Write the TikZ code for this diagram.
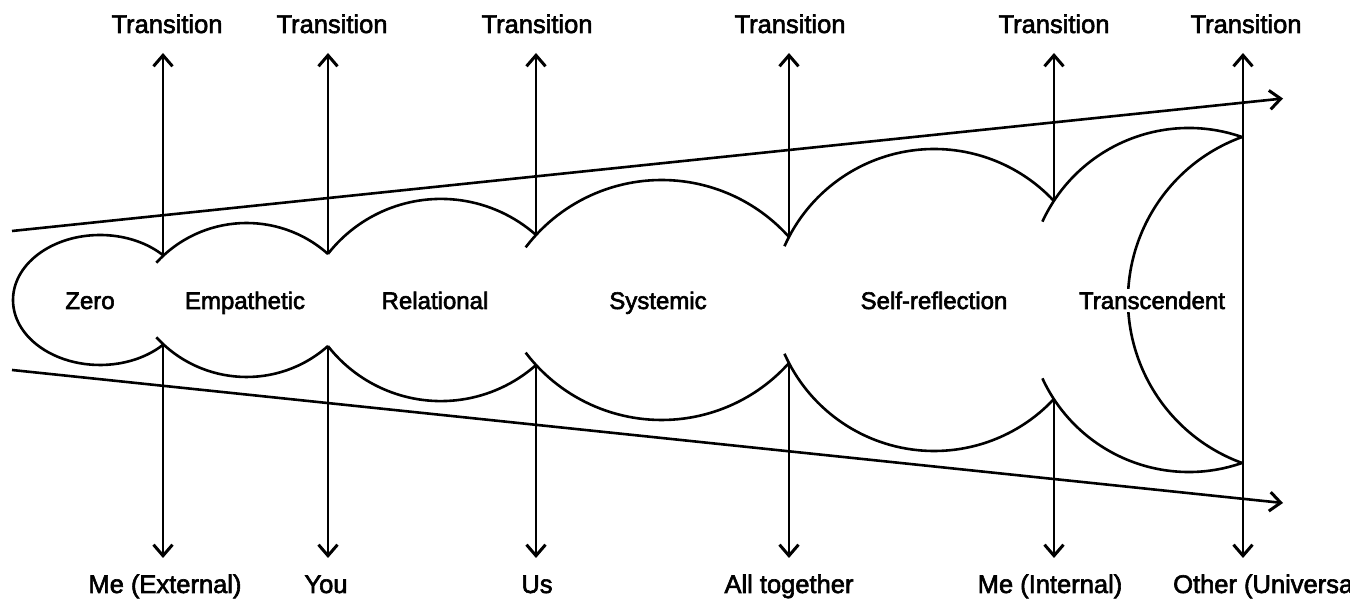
\documentclass[tikz,border=0pt]{standalone}
\usepackage{fontspec}
\newfontfamily\lblfont{Liberation Sans}
\newcommand\medweight{\special{pdf:literal direct 2 Tr 0.6 w}}
\usetikzlibrary{arrows.meta}
\begin{document}
\begin{tikzpicture}[x=1pt,y=1pt,
  ln/.style={line width=2.6pt,black},
  tipstyle/.style={-{Straight Barb[length=11pt,width=19pt,line width=3pt]}},
  outer/.style={font=\lblfont\fontsize{25.5}{29}\selectfont\medweight,inner sep=0pt},
  inner/.style={font=\lblfont\fontsize{24}{28}\selectfont\medweight,inner sep=0pt,anchor=base}]
\useasboundingbox (0,-301) rectangle (1350,300);
\clip (0,-301) rectangle (1350,300);

% diverging lines
\coordinate (tl) at (12,69);
\coordinate (tr) at (1283,201.5);
\coordinate (bl) at (12,-70);
\coordinate (br) at (1283,-203);
\draw[ln,tipstyle] (tl) -- (tr);
\draw[ln,tipstyle] (bl) -- (br);

% junction coordinates
\foreach \n/\x/\h in {1/163/44,2/328/46,3/536/65,4/789/63,5/1054/99,6/1243/163}{
  \coordinate (jt\n) at (\x,\h);
  \coordinate (jb\n) at (\x,-\h);
  \coordinate (at\n) at (\x,247);
  \coordinate (ab\n) at (\x,-258);
}

% vertical arrows
\foreach \n in {1,...,5}{
  \draw[ln,tipstyle] (jt\n) -- (at\n);
  \draw[ln,tipstyle] (jb\n) -- (ab\n);
}
\draw[ln,tipstyle] (jt6) -- (at6);
\draw[ln,tipstyle] (jb6) -- (ab6);
\draw[ln] (jt6) -- (jb6);

% Zero bubble (ellipse)
\draw[ln] ([shift={(100,0)}]42.6:87pt and 65pt) arc[start angle=42.6,end angle=317.4,x radius=87pt,y radius=65pt];

% bubbles: top and bottom arcs
\foreach \cx/\cy/\r/\a/\b in {246.6/45.4/122.4/137.5/48.3,
                               440.9/42.4/143.5/141.9/48.5,
                               661.6/50.9/170.9/142.7/41.8,
                               934.2/12.9/163.9/156/43.0,
                               1188.8/-10.7/161.3/155.2/70.7}{
  \draw[ln] ([shift={(\cx,-\cy)}]\a:\r pt) arc[start angle=\a,end angle=\b,radius=\r pt];
  \draw[ln] ([shift={(\cx,\cy)}]-\a:\r pt) arc[start angle=-\a,end angle=-\b,radius=\r pt];
}
% Transcendent back arc
\draw[ln] ([shift={(1301.5,0)}]110.1:173.5pt) arc[start angle=110.1,end angle=249.9,radius=173.5pt];

% inner labels
\node[inner] (zero) at (90,-9) {Zero};
\node[inner] (emp) at (245,-9) {Empathetic};
\node[inner] (rel) at (435,-9) {Relational};
\node[inner] (sys) at (658,-9) {Systemic};
\node[inner] (self) at (934,-9) {Self-reflection};
\node[inner,fill=white,inner sep=3pt] (trans) at (1152,-9) {Transcendent};

% top labels
\foreach \n/\x in {1/167,2/332,3/537,4/790,5/1054,6/1246}{
  \node[outer,anchor=base] (tt\n) at (\x,267) {Transition};
}
% bottom labels
\node[outer,anchor=base] (b1) at (165,-293) {Me (External)};
\node[outer,anchor=base] (b2) at (326,-293) {You};
\node[outer,anchor=base] (b3) at (537,-293) {Us};
\node[outer,anchor=base] (b4) at (789,-293) {All together};
\node[outer,anchor=base] (b5) at (1050,-293) {Me (Internal)};
\node[outer,anchor=base west] (b6) at (1173,-293) {Other (Universal)};
\end{tikzpicture}
\end{document}
